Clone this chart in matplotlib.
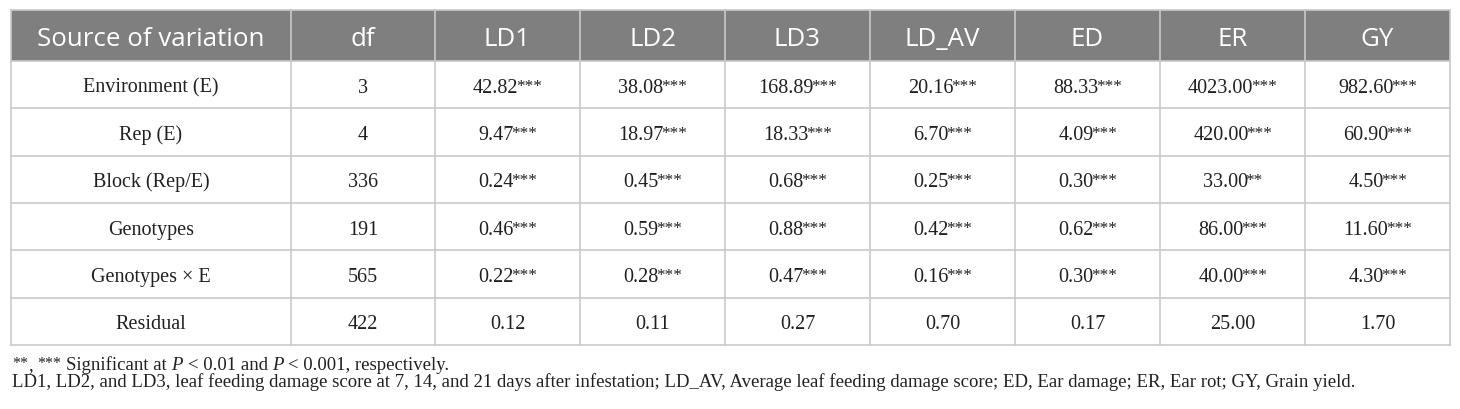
import numpy as np
import matplotlib.pyplot as plt
from matplotlib.patches import Rectangle

# table content
header = ["Source of variation", "df", "LD1", "LD2", "LD3", "LD_AV", "ED", "ER", "GY"]
sources = ["Environment (E)", "Rep (E)", "Block (Rep/E)", "Genotypes", "Genotypes \u00d7 E", "Residual"]
df_vals = [3, 4, 336, 191, 565, 422]

ld1 = [42.82, 9.47, 0.24, 0.46, 0.22, 0.12]
ld2 = [38.08, 18.97, 0.45, 0.59, 0.28, 0.11]
ld3 = [168.89, 18.33, 0.68, 0.88, 0.47, 0.27]
ld_av = [20.16, 6.70, 0.25, 0.42, 0.16, 0.70]
ed = [88.33, 4.09, 0.30, 0.62, 0.30, 0.17]
er = [4023.00, 420.00, 33.00, 86.00, 40.00, 25.00]
gy = [982.60, 60.90, 4.50, 11.60, 4.30, 1.70]

sig_ld1 = ["***", "***", "***", "***", "***", ""]
sig_ld2 = ["***", "***", "***", "***", "***", ""]
sig_ld3 = ["***", "***", "***", "***", "***", ""]
sig_ld_av = ["***", "***", "***", "***", "***", ""]
sig_ed = ["***", "***", "***", "***", "***", ""]
sig_er = ["***", "***", "**", "***", "***", ""]
sig_gy = ["***", "***", "***", "***", "***", ""]

values = [ld1, ld2, ld3, ld_av, ed, er, gy]
sigs = [sig_ld1, sig_ld2, sig_ld3, sig_ld_av, sig_ed, sig_er, sig_gy]

note2 = ("LD1, LD2, and LD3, leaf feeding damage score at 7, 14, and 21 days after infestation; "
         "LD_AV, Average leaf feeding damage score; ED, Ear damage; ER, Ear rot; GY, Grain yield.")

# layout (pixels)
W, H = 1460, 410
x0, top = 11, 11
col_w = [280, 144] + [145] * 7
head_h = 51
row_h = 47.3
head_fs = 18.6
body_fs = 14.5
note_x, note_end = 12, 1355
serif = "Liberation Serif"
sans = "Open Sans"
ink = "#231f20"
line_c = "#c9c9c9"

fig = plt.figure(figsize=(W / 100, H / 100), dpi=100)
ax = fig.add_axes([0, 0, 1, 1])
ax.set_xlim(0, W)
ax.set_ylim(H, 0)
ax.axis("off")
renderer = fig.canvas.get_renderer()

edges = x0 + np.concatenate([[0], np.cumsum(col_w)])
centers = (edges[:-1] + edges[1:]) / 2
n_rows = len(sources)
row_tops = top + head_h + row_h * np.arange(n_rows + 1)
bottom = row_tops[-1]


def pt2px(fs):
    return fs * 100 / 72


def place_runs(x, y, runs, ha="center"):
    # runs: (text, fontsize, style, raise_px) ; text None -> gap of fontsize px
    arts, widths = [], []
    for txt, fs, style, dy in runs:
        if txt is None:
            arts.append(None)
            widths.append(fs)
            continue
        t = ax.text(0, y - dy, txt, fontsize=fs, family=serif, style=style,
                    color=ink, ha="left", va="baseline")
        arts.append(t)
        widths.append(t.get_window_extent(renderer).width)
    start = x - sum(widths) / 2 if ha == "center" else x
    for t, w in zip(arts, widths):
        if t is not None:
            t.set_x(start)
        start += w


# header band
ax.add_patch(Rectangle((edges[0], top), edges[-1] - edges[0], head_h,
                       facecolor="#7f7f7f", edgecolor="none"))
for j, h in enumerate(header):
    ax.text(centers[j], top + head_h / 2 + 0.5 * 0.714 * pt2px(head_fs), h,
            fontsize=head_fs, family=sans, color="white", ha="center", va="baseline")

# grid lines
for xe in edges:
    ax.plot([xe, xe], [top, bottom], color=line_c, lw=1.2)
for ye in row_tops:
    ax.plot([edges[0], edges[-1]], [ye, ye], color=line_c, lw=1.2)
ax.plot([edges[0], edges[-1]], [top, top], color=line_c, lw=1.2)

# body
cap = 0.66 * pt2px(body_fs)
star_fs = body_fs * 0.85
for i in range(n_rows):
    yb = row_tops[i] + row_h / 2 + cap / 2 + 0.5
    place_runs(centers[0], yb, [(sources[i], body_fs, "normal", 0)])
    place_runs(centers[1], yb, [(str(df_vals[i]), body_fs, "normal", 0)])
    for k, (vals, sg) in enumerate(zip(values, sigs)):
        runs = [(f"{vals[i]:.2f}", body_fs, "normal", 0)]
        if sg[i]:
            runs.append((None, -2.5, "normal", 0))
            runs.append((sg[i], star_fs, "normal", 0.1 * pt2px(body_fs)))
        place_runs(centers[k + 2], yb, runs)

# footnotes: size the font so the long line spans the same width as the original
probe = ax.text(0, 0, note2, fontsize=10, family=serif)
note_fs = 10 * (note_end - note_x) / probe.get_window_extent(renderer).width
probe.remove()

sfs = note_fs * 0.85
up = 0.1 * pt2px(note_fs)
sp = 0.25 * pt2px(note_fs)
line1 = [("**", sfs, "normal", up), (",", note_fs, "normal", 0), (None, sp, "normal", 0),
         ("***", sfs, "normal", up), (None, sp, "normal", 0),
         ("Significant at", note_fs, "normal", 0), (None, sp, "normal", 0),
         ("P", note_fs, "italic", 0), (None, sp, "normal", 0),
         ("< 0.01 and", note_fs, "normal", 0), (None, sp, "normal", 0),
         ("P", note_fs, "italic", 0), (None, sp, "normal", 0),
         ("< 0.001, respectively.", note_fs, "normal", 0)]
place_runs(note_x, 370, line1, ha="left")
place_runs(note_x, 387, [(note2, note_fs, "normal", 0)], ha="left")

fig.savefig("out.png", dpi=100)
